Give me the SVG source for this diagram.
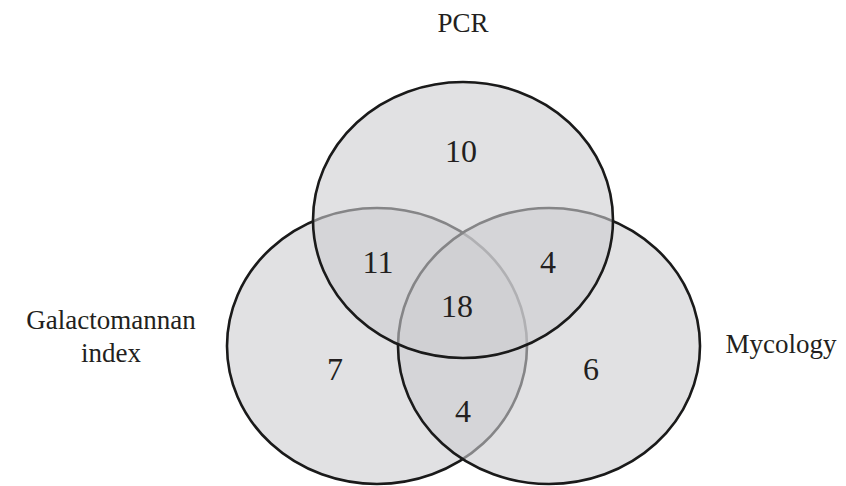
<svg xmlns="http://www.w3.org/2000/svg" width="846" height="486" viewBox="0 0 846 486">
<style>
.set{fill:#cdcdd1;fill-opacity:0.6;stroke:#1a1a1a;stroke-width:2.6}
.num{font-family:"Liberation Serif","Times New Roman",serif;font-size:32px;fill:#231f20;text-anchor:middle}
.lbl{font-family:"Liberation Serif","Times New Roman",serif;font-size:27px;fill:#231f20;text-anchor:middle}
</style>
<rect width="846" height="486" fill="#ffffff"/>
<g id="galactomannan">
<ellipse class="set" cx="377" cy="346" rx="150" ry="138"/>
<text class="lbl" x="111" y="329">Galactomannan</text>
<text class="lbl" x="111" y="362">index</text>
</g>
<g id="mycology">
<ellipse class="set" cx="549" cy="346" rx="151" ry="138"/>
<text class="lbl" x="781" y="353">Mycology</text>
</g>
<g id="pcr">
<ellipse class="set" cx="463" cy="220" rx="150" ry="138"/>
<text class="lbl" x="463" y="32">PCR</text>
</g>
<g id="counts">
<text class="num" x="461" y="162">10</text>
<text class="num" x="378" y="273">11</text>
<text class="num" x="548" y="273">4</text>
<text class="num" x="457" y="317">18</text>
<text class="num" x="335" y="380">7</text>
<text class="num" x="591" y="380">6</text>
<text class="num" x="463" y="422">4</text>
</g>
<g id="connectors"></g>
</svg>
